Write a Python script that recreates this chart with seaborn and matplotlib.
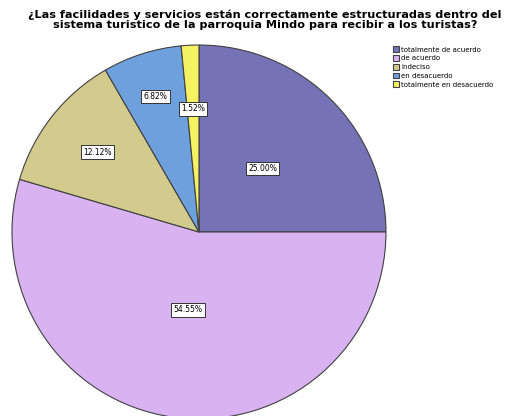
import numpy as np
import matplotlib
matplotlib.use("Agg")
import matplotlib.pyplot as plt
import seaborn as sns

# survey answers (n = 132)
categories = ["totalmente de acuerdo", "de acuerdo", "indeciso",
              "en desacuerdo", "totalmente en desacuerdo"]
percent = [25.00, 54.55, 12.12, 6.82, 1.52]
pct_labels = ["25.00%", "54.55%", "12.12%", "6.82%", "1.52%"]

colors = ["#7672B6", "#D9B2F2", "#D3CB8E", "#6EA0DE", "#F4F262"]
label_radius = [0.48, 0.42, 0.69, 0.76, 0.66]

sns.set_theme(style="white")

fig = plt.figure(figsize=(5.10, 4.16), dpi=100)
ax = fig.add_axes([0.0235, -0.0072, 0.7333, 0.899])

wedges, _ = ax.pie(percent, colors=colors, startangle=90, counterclock=False,
                   wedgeprops=dict(edgecolor="#404040", linewidth=0.8))
ax.set_xlim(-1, 1)
ax.set_ylim(-1, 1)
ax.set_aspect("equal")
ax.axis("off")
for w in wedges:
    w.set_clip_on(False)

# percent labels in white boxes
for w, lab, r in zip(wedges, pct_labels, label_radius):
    mid = np.deg2rad((w.theta1 + w.theta2) / 2)
    ax.text(r * np.cos(mid), r * np.sin(mid), lab, ha="center", va="center",
            fontsize=5.5, color="black",
            bbox=dict(boxstyle="square,pad=0.3", fc="white", ec="#333333", lw=0.7))

fig.suptitle("¿Las facilidades y servicios están correctamente estructuradas dentro del\n"
             "sistema turistico de la parroquia Mindo para recibir a los turistas?",
             x=0.52, y=0.978, fontsize=8.1, fontweight="bold", linespacing=1.0,
             color="black")

leg = fig.legend(wedges, categories, loc="upper left", bbox_to_anchor=(0.765, 0.895),
                 fontsize=5, frameon=False, handlelength=0.9, handleheight=0.9,
                 handletextpad=0.3, labelspacing=0.35, borderaxespad=0)
for t in leg.get_texts():
    t.set_color("black")

fig.savefig("out.png", dpi=100)
